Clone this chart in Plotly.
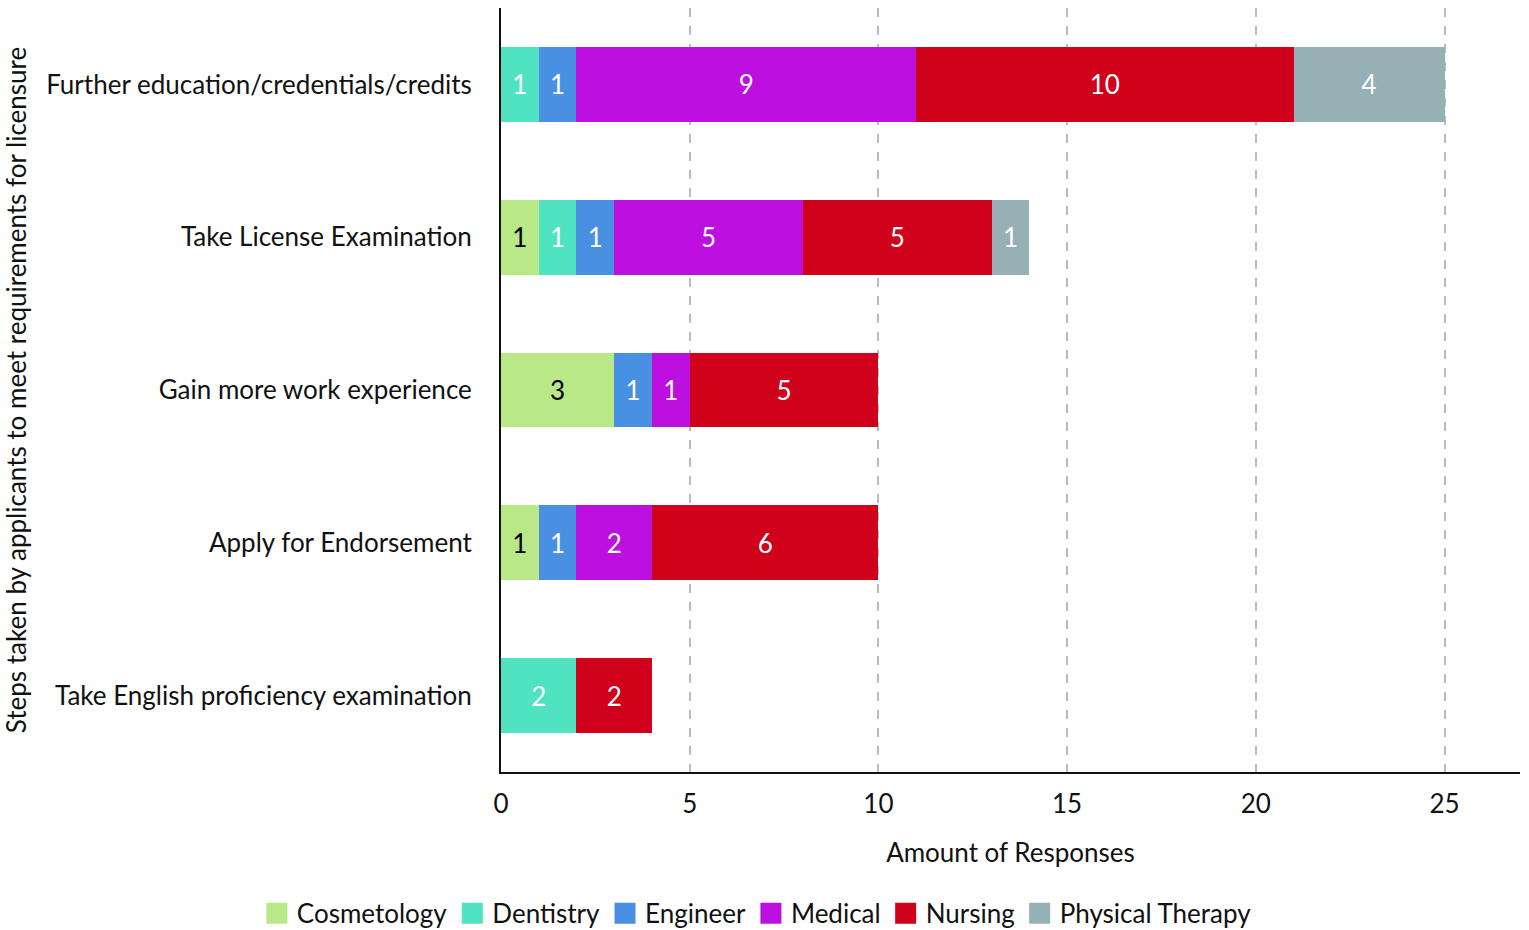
import plotly.graph_objects as go

categories = [
    "Further education/credentials/credits",
    "Take License Examination",
    "Gain more work experience",
    "Apply for Endorsement",
    "Take English proficiency examination",
]
series_names = ["Cosmetology", "Dentistry", "Engineer", "Medical", "Nursing", "Physical Therapy"]
cosmetology = [0, 1, 3, 1, 0]
dentistry = [1, 1, 0, 0, 2]
engineer = [1, 1, 1, 1, 0]
medical = [9, 5, 1, 2, 0]
nursing = [10, 5, 5, 6, 2]
physical_therapy = [4, 1, 0, 0, 0]
x_ticks = [0, 5, 10, 15, 20, 25]

series_values = [cosmetology, dentistry, engineer, medical, nursing, physical_therapy]
colors = ["#b8e986", "#50e3c2", "#4a90e2", "#bd10e0", "#d0021b", "#95b1b5"]
text_colors = ["#000000", "#ffffff", "#ffffff", "#ffffff", "#ffffff", "#ffffff"]

FONT = "Lato, 'Noto Sans', sans-serif"
FS = 26

fig = go.Figure()
for name, vals, col, tcol in zip(series_names, series_values, colors, text_colors):
    fig.add_trace(go.Bar(
        y=categories,
        x=[v if v else None for v in vals],
        name=name,
        orientation="h",
        marker=dict(color=col, line=dict(width=0)),
        text=[str(v) if v else "" for v in vals],
        textposition="inside",
        insidetextanchor="middle",
        textfont=dict(color=tcol, size=FS, family=FONT),
        textangle=0,
        showlegend=False,
        hoverinfo="x+name",
    ))
    fig.add_trace(go.Scatter(
        x=[None], y=[None], mode="markers", name=name,
        marker=dict(symbol="square", size=24, color=col, line=dict(color=col, width=5)),
        showlegend=True,
    ))

fig.update_layout(
    barmode="stack",
    bargap=0.51,
    width=1529,
    height=930,
    margin=dict(l=501, r=9, t=8, b=158),
    paper_bgcolor="white",
    plot_bgcolor="white",
    font=dict(family=FONT, size=FS, color="#111111"),
    legend=dict(
        orientation="h",
        xref="container", yref="container",
        x=0.495, xanchor="center",
        y=0.018, yanchor="middle",
        font=dict(size=FS, family=FONT, color="#111111"),
        itemsizing="trace",
        traceorder="normal",
    ),
    xaxis=dict(
        range=[0, 27],
        tickvals=x_ticks,
        showgrid=True,
        gridcolor="#bbbbbb",
        griddash="dash",
        gridwidth=1.5,
        zeroline=False,
        showline=True,
        linecolor="#111111",
        linewidth=2,
        ticks="",
        ticklabelstandoff=8,
        tickfont=dict(size=FS, family=FONT, color="#111111"),
        title=dict(text="Amount of Responses", font=dict(size=FS, family=FONT, color="#111111"), standoff=26),
    ),
    yaxis=dict(
        categoryorder="array",
        categoryarray=categories[::-1],
        range=[-0.5, 4.5],
        showgrid=False,
        zeroline=False,
        showline=True,
        linecolor="#111111",
        linewidth=2,
        ticks="",
        ticklabelstandoff=22,
        tickfont=dict(size=FS, family=FONT, color="#111111"),
        title=dict(text="Steps taken by applicants to meet requirements for licensure",
                   font=dict(size=FS, family=FONT, color="#111111"), standoff=14),
    ),
)

fig.write_html("out.html", config={"displayModeBar": False},
               post_script="document.body.style.margin='0';")
